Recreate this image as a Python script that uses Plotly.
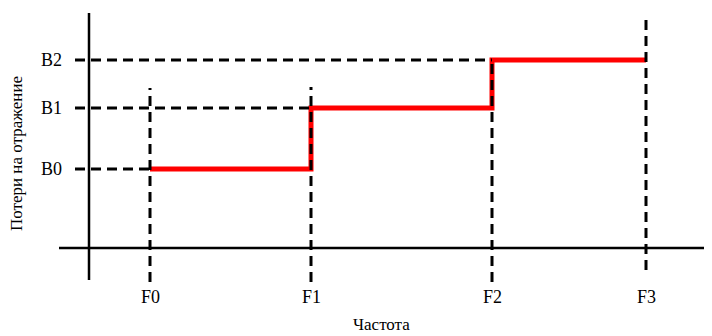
import plotly.graph_objects as go

# frequency points (x, arbitrary units, origin at the vertical axis)
freq_labels = ["F0", "F1", "F2", "F3"]
freq_pos = [6.1, 22.2, 40.3, 55.7]

# return-loss levels (y, arbitrary units, origin at the horizontal axis)
loss_labels = ["B0", "B1", "B2"]
loss_vals = [7.9, 14.0, 18.8]

# extent of each vertical guide line
guide_top = [16.0, 16.1, 18.9, 23.3]
guide_bottom = [-3.4, -3.4, -3.4, -2.2]

FONT = "'Times New Roman', 'Liberation Serif', 'DejaVu Serif', serif"
DASH = "10px,6px"

# page body has an 8px margin, so the figure starts at (8, 8) in the window
W, H, OFF = 704, 328, 8

fig = go.Figure()

# axes drawn as plain black lines crossing at the origin
fig.add_shape(type="line", x0=0, x1=0, y0=-3.2, y1=23.5,
              line=dict(color="black", width=2.5))
fig.add_shape(type="line", x0=-3.0, x1=62.3, y0=0, y1=0,
              line=dict(color="black", width=2.5))

# vertical dashed guides at each frequency
for x, top, bot in zip(freq_pos, guide_top, guide_bottom):
    fig.add_shape(type="line", x0=x, x1=x, y0=bot, y1=top,
                  line=dict(color="black", width=3, dash=DASH))

# horizontal dashed guides from the axis to each level
for y, x_end in zip(loss_vals, freq_pos[:3]):
    fig.add_shape(type="line", x0=-1.4, x1=x_end, y0=y, y1=y,
                  line=dict(color="black", width=3, dash=DASH))

# stepped return-loss curve
fig.add_trace(go.Scatter(
    x=freq_pos,
    y=loss_vals + [loss_vals[-1]],
    mode="lines",
    line=dict(color="#ff0000", width=5, shape="hv"),
    hoverinfo="skip",
    showlegend=False,
))

# tick labels
for lab, x in zip(freq_labels, freq_pos):
    fig.add_annotation(x=x, y=-4.9, text=lab, showarrow=False,
                       xanchor="center", yanchor="middle",
                       font=dict(family=FONT, size=18, color="black"))
for lab, y in zip(loss_labels, loss_vals):
    fig.add_annotation(x=-2.5, y=y, text=lab, showarrow=False,
                       xanchor="right", yanchor="middle",
                       font=dict(family=FONT, size=18, color="black"))

# axis titles
fig.add_annotation(x=(381 - OFF) / W, y=1 - (324 - OFF) / H,
                   xref="paper", yref="paper",
                   text="Частота", showarrow=False,
                   xanchor="center", yanchor="middle",
                   font=dict(family=FONT, size=17, color="black"))
fig.add_annotation(x=(17 - OFF) / W, y=1 - (154 - OFF) / H,
                   xref="paper", yref="paper",
                   text="Потери на отражение", showarrow=False, textangle=-90,
                   xanchor="center", yanchor="middle",
                   font=dict(family=FONT, size=17, color="black"))

fig.update_xaxes(range=[-8.1, 62.3], visible=False, fixedrange=True)
fig.update_yaxes(range=[-8.8, 24.0], visible=False, fixedrange=True)
fig.update_layout(
    width=W, height=H,
    margin=dict(l=0, r=0, t=0, b=0),
    paper_bgcolor="white", plot_bgcolor="white",
)

fig.write_html("out.html")
